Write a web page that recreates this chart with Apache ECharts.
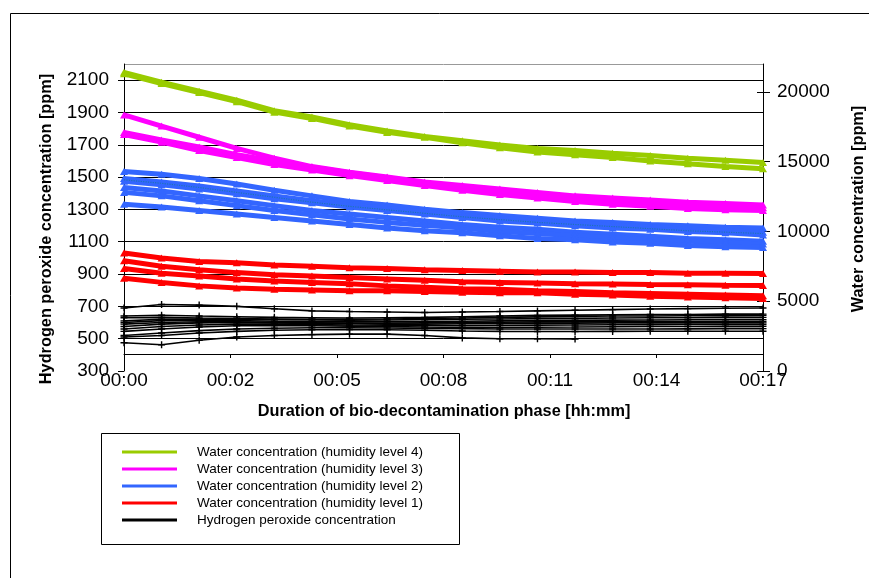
<!DOCTYPE html>
<html>
<head>
<meta charset="utf-8">
<script src="https://cdn.jsdelivr.net/npm/echarts@6/dist/echarts.min.js"></script>
<style>
html,body{margin:0;padding:0;background:#fff;}
#chart{width:869px;height:578px;}
</style>
</head>
<body>
<div id="chart"></div>
<script>
// time of each reading [minutes]
const minutes = [0,1,2,3,4,5,6,7,8,9,10,11,12,13,14,15,16,17];
const xTickLabels = ['00:00','00:02','00:05','00:08','00:11','00:14','00:17'];

const legendNames = [
  'Water concentration (humidity level 4)',
  'Water concentration (humidity level 3)',
  'Water concentration (humidity level 2)',
  'Water concentration (humidity level 1)',
  'Hydrogen peroxide concentration'
];

// Water concentration [ppm] (right axis)
const level4a = [21400,20700,20050,19400,18650,18200,17650,17200,16800,16500,16200,15950,15800,15600,15450,15250,15100,14950];
const level4b = [21300,20600,19950,19300,18550,18100,17550,17100,16750,16350,16000,15700,15500,15300,15050,14850,14650,14500];

const level3a = [18350,17550,16750,15950,15250,14650,14250,13900,13550,13300,13050,12800,12550,12400,12250,12100,12000,11900];
const level3b = [17100,16550,16050,15500,15050,14600,14200,13850,13500,13150,12900,12600,12400,12150,12050,11900,11750,11700];
const level3c = [16950,16400,15800,15300,14800,14400,14000,13650,13300,12950,12650,12400,12150,11950,11800,11650,11550,11500];

const level2a = [14300,14100,13800,13400,12950,12550,12150,11900,11600,11350,11150,10950,10750,10650,10500,10400,10300,10250];
const level2b = [13800,13550,13250,12900,12550,12200,11900,11650,11400,11150,10950,10750,10600,10450,10300,10150,10050,9950];
const level2c = [13600,13350,13050,12700,12350,12050,11750,11500,11250,11000,10750,10600,10400,10250,10150,10000,9900,9750];
const level2d = [13150,12900,12550,12200,11850,11500,11250,11000,10750,10500,10300,10150,9950,9800,9650,9500,9400,9300];
const level2e = [12800,12550,12200,11850,11500,11200,10900,10650,10450,10250,10000,9850,9700,9550,9400,9300,9200,9100];
const level2f = [11950,11750,11500,11250,11000,10750,10500,10250,10050,9900,9700,9500,9400,9250,9150,9000,8900,8850];
const level2g = [13700,13450,13150,12800,12450,12100,11800,11550,11300,11050,10850,10650,10500,10350,10200,10050,9950,9850];

const level1a = [8450,8100,7850,7750,7600,7500,7400,7350,7250,7200,7150,7100,7100,7050,7050,7000,7000,6980];
const level1b = [7900,7500,7250,7050,6900,6800,6700,6600,6500,6400,6350,6300,6250,6230,6200,6180,6150,6130];
const level1c = [7350,7000,6800,6600,6450,6350,6250,6100,6000,5900,5850,5750,5700,5600,5550,5500,5450,5400];
const level1d = [6650,6350,6100,5950,5850,5800,5750,5750,5700,5650,5600,5600,5500,5450,5350,5300,5250,5200];

// Hydrogen peroxide concentration [ppm] (left axis)
const h2o2a = [690,712,708,700,685,672,668,665,662,665,668,672,676,680,684,686,688,690];
const h2o2b = [640,645,640,636,632,630,628,630,632,636,640,644,646,648,650,650,652,652];
const h2o2c = [630,632,628,625,622,620,620,622,625,628,632,635,638,640,640,642,642,644];
const h2o2d = [610,620,622,620,618,616,615,616,618,620,622,624,626,628,630,630,632,632];
const h2o2e = [600,612,615,612,608,605,604,605,606,608,610,612,614,615,616,617,618,618];
const h2o2f = [590,600,605,604,600,598,596,596,598,600,602,604,604,605,606,606,606,606];
const h2o2g = [575,590,598,600,598,595,592,590,590,592,594,596,596,598,598,598,598,598];
const h2o2h = [560,575,585,590,590,588,585,583,582,582,583,584,585,586,587,588,588,588];
const h2o2i = [545,560,572,580,582,580,578,575,572,570,570,571,572,574,575,575,576,576];
const h2o2j = [520,535,550,560,565,568,568,566,564,562,560,560,560,560,560,561,562,562];
const h2o2k = [510,520,535,545,552,555,556,555,552,548,545,544,544,545,546,546,546,546];
const h2o2l = [475,462,490,510,520,525,528,528,520,505,500,500,498];

const FONT = 'Liberation Sans, Arial, sans-serif';
const GREEN = '#99CC00', MAGENTA = '#FF00FF', BLUE = '#3366FF', RED = '#FF0000', BLACK = '#000000';
const PLUS = 'path://M2,0H3V2H5V3H3V5H2V3H0V2H2Z';

function pairs(vals){ return vals.map((v,i)=>[minutes[i], v]); }
function water(name, color, vals){
  return {
    type:'line', name:name, yAxisIndex:1, data:pairs(vals),
    symbol:'triangle', symbolSize:[8,7], showSymbol:true,
    lineStyle:{color:color, width:5}, itemStyle:{color:color},
    emphasis:{disabled:true}, animation:false, z:3
  };
}
function peroxide(vals){
  return {
    type:'line', name:legendNames[4], yAxisIndex:0, data:pairs(vals),
    symbol:PLUS, symbolSize:7, showSymbol:true,
    lineStyle:{color:BLACK, width:1.6}, itemStyle:{color:BLACK},
    emphasis:{disabled:true}, animation:false, z:2
  };
}

const series = [
  ...[h2o2a,h2o2b,h2o2c,h2o2d,h2o2e,h2o2f,h2o2g,h2o2h,h2o2i,h2o2j,h2o2k,h2o2l].map(peroxide),
  ...[level1a,level1b,level1c,level1d].map(v=>water(legendNames[3], RED, v)),
  ...[level2a,level2b,level2c,level2d,level2e,level2f].map(v=>water(legendNames[2], BLUE, v)),
  ...[level3a,level3b,level3c].map(v=>water(legendNames[1], MAGENTA, v)),
  ...[level4a,level4b].map(v=>water(legendNames[0], GREEN, v)),
  {
    type:'line', name:'trace', yAxisIndex:1, data:pairs(level2g), symbol:'none',
    lineStyle:{color:'#1f74b8', width:1.2, type:'dotted'}, emphasis:{disabled:true}, animation:false, z:4
  }
];

const step = 17/6;
const plain = v => String(v);
const chart = echarts.init(document.getElementById('chart'), null, {renderer:'canvas'});
chart.setOption({
  animation:false,
  backgroundColor:'#ffffff',
  textStyle:{fontFamily:FONT},
  grid:{left:124, right:106, top:64, bottom:207, containLabel:false},
  legend:{
    data:legendNames, orient:'vertical', left:122, top:443.5, padding:0,
    icon:'rect', itemWidth:55, itemHeight:3, itemGap:0,
    textStyle:{fontFamily:FONT, fontSize:13.5, color:'#000', lineHeight:17, padding:[0,0,0,15]},
    selectedMode:false
  },
  xAxis:{
    type:'value', min:0, max:17, interval:step, offset:-17,
    axisLine:{show:true, lineStyle:{color:'#000', width:1}},
    axisTick:{show:true, length:4, lineStyle:{color:'#000'}},
    splitLine:{show:false},
    axisLabel:{margin:17, fontSize:19, color:'#000', fontFamily:FONT,
      formatter:function(v){ return xTickLabels[Math.round(v/step)]; }}
  },
  yAxis:[
    {
      type:'value', min:300, max:2200, interval:200, position:'left',
      axisLine:{show:true, lineStyle:{color:'#000'}},
      axisTick:{show:true, length:6, lineStyle:{color:'#000'}},
      axisLabel:{margin:15, fontSize:19, color:'#000', fontFamily:FONT, showMaxLabel:false, formatter:plain},
      splitLine:{show:true, lineStyle:{color:['transparent','#000','#000','#000','#000','#000','#000','#000','#000','#000','#999'], width:1}}
    },
    {
      type:'value', min:0, max:22000, interval:5000, position:'right',
      axisLine:{show:true, lineStyle:{color:'#000'}},
      axisTick:{show:true, length:7, lineStyle:{color:'#000'}, customValues:[0,5000,10000,15000,20000]},
      axisLabel:{margin:14, fontSize:19, color:'#000', fontFamily:FONT, customValues:[0,5000,10000,15000,20000], formatter:plain},
      splitLine:{show:false}
    },
    {
      type:'value', min:0, max:22000, interval:5000, position:'right',
      axisLine:{show:false},
      axisTick:{show:true, inside:true, length:6, lineStyle:{color:'#000'}, customValues:[0,5000,10000,15000,20000]},
      axisLabel:{show:false}, splitLine:{show:false}
    }
  ],
  graphic:[
    {type:'line', shape:{x1:10.5, y1:13.5, x2:10.5, y2:578}, style:{stroke:'#000', lineWidth:1}},
    {type:'line', shape:{x1:10.5, y1:13.5, x2:869, y2:13.5}, style:{stroke:'#000', lineWidth:1}},
    {type:'rect', shape:{x:101.5, y:433.5, width:358, height:111}, style:{fill:'none', stroke:'#000', lineWidth:1}},
    {type:'text', x:47, y:229, rotation:Math.PI/2,
      style:{text:'Hydrogen peroxide concentration [ppm]', font:'bold 16.3px '+FONT, fill:'#000', align:'center', verticalAlign:'middle'}},
    {type:'text', x:859, y:209, rotation:Math.PI/2,
      style:{text:'Water concentration [ppm]', font:'bold 16.3px '+FONT, fill:'#000', align:'center', verticalAlign:'middle'}},
    {type:'text', x:444, y:412,
      style:{text:'Duration of bio-decontamination phase [hh:mm]', font:'bold 16.3px '+FONT, fill:'#000', align:'center', verticalAlign:'middle'}}
  ],
  series:series
});
</script>
</body>
</html>
